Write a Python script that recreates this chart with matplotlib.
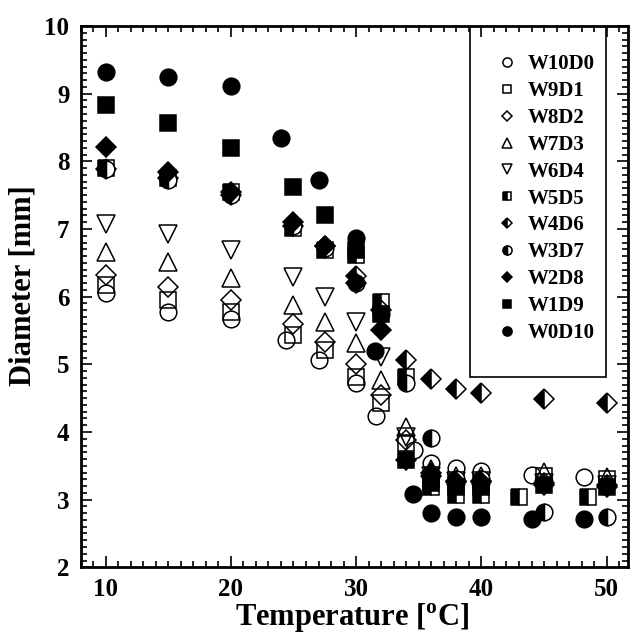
import numpy as np
import matplotlib
matplotlib.use('Agg')
import matplotlib.pyplot as plt
from matplotlib.patches import Rectangle
from matplotlib.ticker import MultipleLocator

plt.rcParams['font.family'] = 'Liberation Serif'
plt.rcParams['font.weight'] = 'bold'
plt.rcParams['mathtext.fontset'] = 'custom'
plt.rcParams['mathtext.rm'] = 'Liberation Serif:bold'
plt.rcParams['mathtext.bf'] = 'Liberation Serif:bold'

# data
labels = ['W10D0', 'W9D1', 'W8D2', 'W7D3', 'W6D4', 'W5D5',
          'W4D6', 'W3D7', 'W2D8', 'W1D9', 'W0D10']

t_std = [10, 15, 20, 25, 27.5, 30, 32, 34, 36, 38, 40, 45, 50]

t_w10d0 = [10, 15, 20, 24.4, 27, 30, 31.6, 34.6, 36, 38, 40, 44, 48.2]
d_w10d0 = [6.05, 5.78, 5.67, 5.36, 5.06, 4.72, 4.24, 3.73, 3.54, 3.47, 3.42, 3.36, 3.34]

d_w9d1 = [6.17, 5.95, 5.78, 5.43, 5.21, 4.82, 4.43, 3.84, 3.30, 3.25, 3.25, 3.35, 3.30]
d_w8d2 = [6.32, 6.14, 5.95, 5.60, 5.33, 5.01, 4.55, 3.88, 3.35, 3.28, 3.28, 3.25, 3.22]
d_w7d3 = [6.66, 6.51, 6.27, 5.87, 5.63, 5.31, 4.77, 4.08, 3.45, 3.35, 3.35, 3.41, 3.34]
d_w6d4 = [7.08, 6.93, 6.69, 6.29, 6.00, 5.63, 5.11, 3.93, 3.35, 3.28, 3.28, 3.25, 3.22]

t_w5d5 = [10, 15, 20, 25, 27.5, 30, 32, 34, 36, 38, 40, 43, 48.5]
d_w5d5 = [7.90, 7.75, 7.55, 7.01, 6.69, 6.62, 5.92, 4.82, 3.19, 3.07, 3.07, 3.04, 3.04]

d_w4d6 = [7.88, 7.75, 7.50, 7.05, 6.75, 6.30, 5.80, 5.06, 4.79, 4.64, 4.58, 4.49, 4.43]
d_w3d7 = [7.88, 7.72, 7.50, 7.05, 6.72, 6.20, 5.75, 4.72, 3.91, 3.30, 3.30, 2.82, 2.75]
d_w2d8 = [8.21, 7.85, 7.55, 7.10, 6.75, 6.20, 5.51, 3.58, 3.39, 3.26, 3.26, 3.22, 3.19]
d_w1d9 = [8.83, 8.56, 8.20, 7.62, 7.20, 6.69, 5.75, 3.58, 3.25, 3.18, 3.18, 3.22, 3.19]

t_w0d10 = [10, 15, 20, 24, 27, 30, 31.5, 34.5, 36, 38, 40, 44, 48.2]
d_w0d10 = [9.32, 9.24, 9.12, 8.35, 7.72, 6.87, 5.19, 3.08, 2.80, 2.75, 2.74, 2.72, 2.72]

temps = [t_w10d0, t_std, t_std, t_std, t_std, t_w5d5,
         t_std, t_std, t_std, t_std, t_w0d10]
diams = [d_w10d0, d_w9d1, d_w8d2, d_w7d3, d_w6d4, d_w5d5,
         d_w4d6, d_w3d7, d_w2d8, d_w1d9, d_w0d10]

# marker styles
styles = [
    dict(marker='o', ms=12, mfc='none'),
    dict(marker='s', ms=11, mfc='none'),
    dict(marker='D', ms=10, mfc='none'),
    dict(marker='^', ms=13, mfc='none'),
    dict(marker='v', ms=13, mfc='none'),
    dict(marker='s', ms=11, mfc='black', fillstyle='left', mfcalt='white'),
    dict(marker='D', ms=10, mfc='black', fillstyle='left', mfcalt='white'),
    dict(marker='o', ms=12, mfc='black', fillstyle='left', mfcalt='white'),
    dict(marker='D', ms=10, mfc='black'),
    dict(marker='s', ms=11, mfc='black'),
    dict(marker='o', ms=12, mfc='black'),
]

fig = plt.figure(figsize=(6.3, 6.35), dpi=100)
ax = fig.add_axes([0.1278, 0.1066, 0.869, 0.8524])

handles = []
for t, d, lab, st in zip(temps, diams, labels, styles):
    st = dict(st)
    alt = st.pop('mfcalt', None)
    h, = ax.plot(t, d, linestyle='none', mec='black', mew=1.1,
                 label=lab, **st)
    if alt is not None:
        h.set_markerfacecoloralt(alt)
    handles.append(h)

ax.set_xlim(8, 51.7)
ax.set_ylim(2, 10)
ax.xaxis.set_major_locator(MultipleLocator(10))
ax.xaxis.set_minor_locator(MultipleLocator(1))
ax.yaxis.set_major_locator(MultipleLocator(1))
ax.yaxis.set_minor_locator(MultipleLocator(0.1))
ax.tick_params(which='both', direction='in', top=True, right=True, width=1.2)
ax.tick_params(which='major', length=8, labelsize=18)
ax.tick_params(which='minor', length=4.5)
ax.tick_params(axis='x', which='major', pad=8)
ax.tick_params(axis='y', which='major', pad=8)
for s in ax.spines.values():
    s.set_linewidth(2)

ax.set_xlabel(r'Temperature [$^{\mathrm{o}}$C]', fontsize=22, fontweight='bold')
ax.set_ylabel('Diameter [mm]', fontsize=22, fontweight='bold')
ax.xaxis.set_label_coords(0.497, -0.064)
ax.yaxis.set_label_coords(-0.079, 0.52)

# legend box drawn separately
ax.add_patch(Rectangle((0.711, 0.3516), 0.249, 0.6484, transform=ax.transAxes,
                       fill=False, edgecolor='black', lw=1.2, zorder=5))
leg = ax.legend(handles=handles, loc='upper left', bbox_to_anchor=(0.760, 0.948),
                frameon=False, borderpad=0, borderaxespad=0,
                handlelength=1.0, handletextpad=0.5, labelspacing=0.33,
                markerscale=0.55, prop={'weight': 'bold', 'size': 15})

fig.savefig('out.png', dpi=100)
